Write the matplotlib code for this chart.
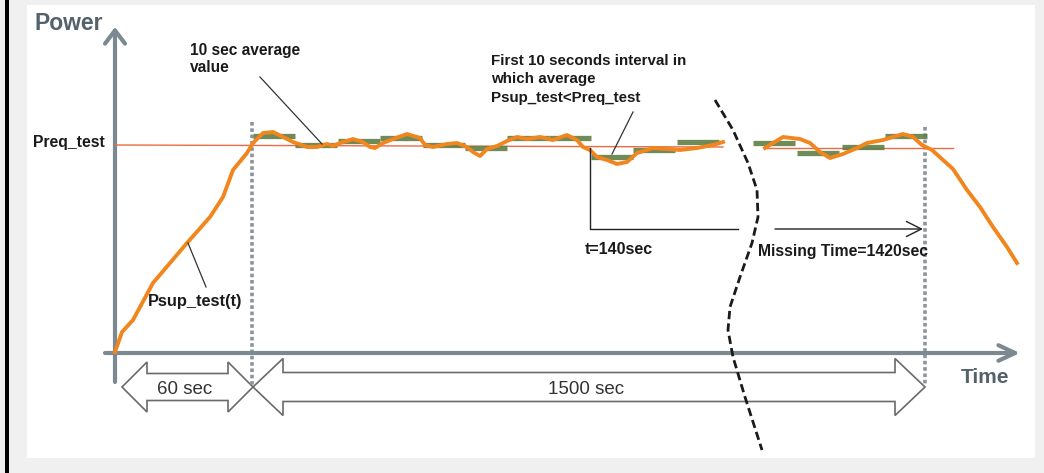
import matplotlib.pyplot as plt
from matplotlib.patches import Rectangle, Polygon

plt.rcParams["font.family"] = ["Liberation Sans", "DejaVu Sans"]

# everything is laid out on a 1044 x 473 canvas (y grows downwards)

# supplied power, before the break in the time axis
psup_x1 = [115, 122, 133, 153, 187, 210, 223, 233, 247, 253, 263, 273, 283, 293,
           307, 317, 327, 333, 340, 353, 363, 370, 375, 383, 393, 407, 420, 425,
           433, 447, 457, 467, 473, 480, 487, 497, 507, 517, 527, 540, 553, 567,
           577, 583, 590, 597, 607, 617, 627, 637, 653, 667, 680, 697, 713, 723]
psup_y1 = [352, 332, 320, 283, 243, 217, 197, 170, 153, 143, 133, 132, 137, 142,
           147, 147, 144, 146, 143, 139, 142, 147, 148, 143, 139, 134, 138, 145,
           147, 144, 143, 147, 152, 156, 149, 146, 141, 137, 139, 137, 140, 135,
           140, 147, 150, 157, 160, 164, 162, 153, 148, 149, 150, 148, 145, 142]
# supplied power, after the break
psup_x2 = [765, 773, 783, 800, 810, 820, 830, 843, 857, 867, 883, 893, 903, 913,
           922, 932, 943, 953, 967, 980, 993, 1007, 1017]
psup_y2 = [148, 143, 137, 139, 143, 152, 158, 154, 148, 143, 140, 137, 134, 137,
           145, 150, 160, 169, 190, 207, 227, 247, 263]

# required power level
preq_x1 = [115, 723]
preq_y1 = [145, 147]
preq_x2 = [765, 953]
preq_y2 = [148, 148]

# 10 s averages (start of each window, level)
avg_x1 = [253, 295, 338, 380, 423, 465, 507, 549, 591, 633, 677]
avg_y1 = [136, 145, 141, 138, 145, 148, 138, 138, 157, 150, 142]
avg_x2 = [753, 797, 842, 885]
avg_y2 = [143, 153, 147, 136]
avg_w = 42

# broken time axis marker
brk_x = [715, 733, 748, 757, 758, 752, 740, 730, 728, 733, 745, 762]
brk_y = [100, 130, 163, 190, 217, 243, 277, 307, 330, 357, 397, 450]

# interval arrows under the time axis: (start, end, label)
spans = [(122, 253, "60 sec"), (253, 925, "1500 sec")]

orange = "#f2861e"
green = "#5f7f46"
axis_c = "#7d8990"
dot_c = "#8a959c"
ink = "#1a1a1a"

fig = plt.figure(figsize=(10.44, 4.73), dpi=100, facecolor="#f0f0f0")
ax = fig.add_axes([0, 0, 1, 1])
ax.set_xlim(0, 1044)
ax.set_ylim(473, 0)
ax.axis("off")

ax.add_patch(Rectangle((27, 5), 1008, 453, facecolor="white", edgecolor="none", zorder=0))
ax.add_patch(Rectangle((5, 0), 4, 473, facecolor="black", edgecolor="none", zorder=0))

# axes
ax.annotate("", xy=(115, 27), xytext=(115, 382),
            arrowprops=dict(arrowstyle="->,head_length=0.95,head_width=0.72",
                            lw=3, color=axis_c, shrinkA=0, shrinkB=0, mutation_scale=10))
ax.annotate("", xy=(1020, 353), xytext=(105, 353),
            arrowprops=dict(arrowstyle="->,head_length=1.2,head_width=0.56",
                            lw=3, color=axis_c, shrinkA=0, shrinkB=0, mutation_scale=10))
ax.text(35, 30, "Power", fontsize=16.5, fontweight="bold", color="#56626b")
ax.text(961, 383, "Time", fontsize=15, fontweight="bold", color="#56626b")

# dotted markers at the start and end of the 1500 s window
for xv, ytop in [(252, 122), (925, 127)]:
    ax.plot([xv, xv], [ytop, 385], color=dot_c, lw=2.6, linestyle=(0, (1, 0.75)), zorder=2)

# required level
ax.plot(preq_x1, preq_y1, color="#ec6a45", lw=1, zorder=3)
ax.plot(preq_x2, preq_y2, color="#ec6a45", lw=1, zorder=3)
ax.text(33, 147, "Preq_test", fontsize=11.3, fontweight="bold", color=ink)

# 10 s averages
for xs, ys in [(avg_x1, avg_y1), (avg_x2, avg_y2)]:
    for x0, y0 in zip(xs, ys):
        ax.plot([x0, min(x0 + avg_w, 720 if x0 < 740 else 1040)], [y0, y0],
                color=green, lw=3.8, solid_capstyle="butt", alpha=0.9, zorder=4)

# supplied power
ax.plot(psup_x1, psup_y1, color=orange, lw=2.8, solid_joinstyle="round", zorder=5)
ax.plot(psup_x2, psup_y2, color=orange, lw=2.8, solid_joinstyle="round", zorder=5)

# interval arrows
for xa, xb, lab in spans:
    big = xb - xa > 200
    hs, hh, hl = (14.5, 28.5, 30) if big else (13.5, 25, 25)
    yc = 387
    pts = [(xa, yc), (xa + hl, yc - hh), (xa + hl, yc - hs), (xb - hl, yc - hs),
           (xb - hl, yc - hh), (xb, yc), (xb - hl, yc + hh), (xb - hl, yc + hs),
           (xa + hl, yc + hs), (xa + hl, yc + hh)]
    ax.add_patch(Polygon(pts, closed=True, facecolor="white", edgecolor="#6a6a6a",
                         lw=1.2, zorder=1))
    ax.text((xa + xb) / 2 - 3, 394, lab, fontsize=13.5, ha="center", color="#333333", zorder=6)

# 140 s / 1420 s construction
ax.plot([590, 590, 738], [148, 229, 229], color="#222222", lw=1, zorder=6)
ax.annotate("", xy=(923, 229), xytext=(775, 229),
            arrowprops=dict(arrowstyle="->,head_length=1.08,head_width=0.54",
                            lw=1, color="#222222", shrinkA=0, shrinkB=0, mutation_scale=10))
ax.text(585, 254, "t=140sec", fontsize=11.5, fontweight="bold", color=ink)
ax.text(758, 256, "Missing Time=1420sec", fontsize=11.3, fontweight="bold", color=ink)

# break marker
ax.plot(brk_x, brk_y, color=ink, lw=2, linestyle=(0, (3, 1.5)), zorder=7)

# callouts
ax.plot([260, 322], [77, 144], color="#333333", lw=0.9, zorder=6)
ax.text(190, 55, "10 sec average", fontsize=11.2, fontweight="bold", color=ink)
ax.text(190, 72, "value", fontsize=11.2, fontweight="bold", color=ink)

ax.plot([633, 612], [112, 154], color="#333333", lw=0.9, zorder=6)
for i, line in enumerate(["First 10 seconds interval in", "which average",
                          "Psup_test<Preq_test"]):
    ax.text(491, 65 + 18.5 * i, line, fontsize=10.9, fontweight="bold", color=ink)

ax.plot([188, 206], [243, 287], color="#333333", lw=0.9, zorder=6)
ax.text(148, 306, "Psup_test(t)", fontsize=11.8, fontweight="bold", color=ink)

fig.savefig("out.png", dpi=100, facecolor=fig.get_facecolor())
